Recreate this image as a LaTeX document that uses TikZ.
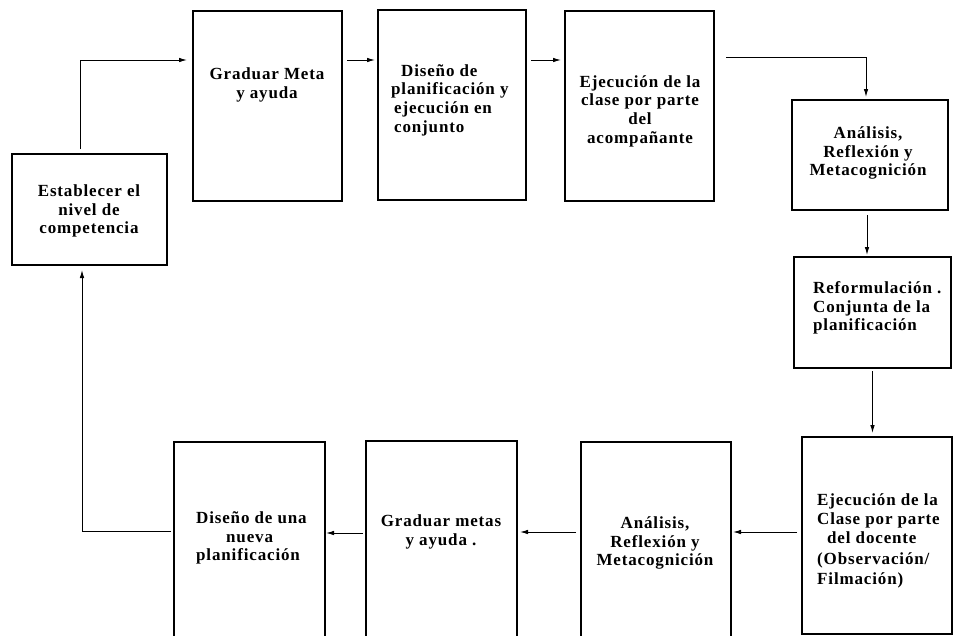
\documentclass[tikz,border=0pt]{standalone}
\usepackage{fontspec}
\setmainfont{Liberation Serif}[LetterSpace=5, BoldFont={Liberation Serif Bold}]
\usetikzlibrary{arrows.meta,calc}
\begin{document}
\begin{tikzpicture}[x=1pt,y=-1pt,
  box/.style={draw, line width=1.1pt, inner sep=0pt, outer sep=0pt, anchor=north west},
  lbl/.style={font=\bfseries\fontsize{17}{18.7}\selectfont, inner sep=0pt, align=center},
  lbll/.style={lbl, align=left},
  arr/.style={-{Latex[length=8pt,width=4.5pt]}, line width=0.9pt}]
\useasboundingbox (0,0) rectangle (953,635);
\clip (0,0) rectangle (953,635);
\fill[white] (0,0) rectangle (953,635);
% boxes
\node[box, minimum width=155pt, minimum height=111pt] (est) at (12,154) {};
\node[box, minimum width=149pt, minimum height=190pt] (grad) at (193,11) {};
\node[box, minimum width=148pt, minimum height=190pt] (dis) at (378,10) {};
\node[box, minimum width=149pt, minimum height=190pt] (eje) at (565,11) {};
\node[box, minimum width=156pt, minimum height=110pt] (ana) at (792,100) {};
\node[box, minimum width=157pt, minimum height=111pt] (ref) at (794,257) {};
\node[box, minimum width=150pt, minimum height=197pt] (doc) at (802,437) {};
\node[box, minimum width=150pt, minimum height=208pt] (ana2) at (581,442) {};
\node[box, minimum width=151pt, minimum height=209pt] (gm) at (366,441) {};
\node[box, minimum width=151pt, minimum height=208pt] (dn) at (174,442) {};
% texts
\node[lbl] (estT) at (89,211) {Establecer el\\nivel de\\competencia};
\node[lbl] (gradT) at (267,85) {Graduar Meta\\y ayuda};
\node[lbll, anchor=west] (disT) at (391,100) {\hspace*{10pt}Diseño de\\planificación y\\\hspace*{3pt}ejecución en\\\hspace*{3pt}conjunto};
\node[lbl] (ejeT) at (640,111) {Ejecución de la\\clase por parte\\del\\acompañante};
\node[lbl] (anaT) at (868,153) {Análisis,\\Reflexión y\\Metacognición};
\node[lbll, anchor=west] (refT) at (813,308) {Reformulación .\\Conjunta de la\\planificación};
\node[lbll, anchor=west] (docT) at (817,541) {Ejecución de la\\Clase por parte\\\hspace*{10pt}del docente\\[3pt](Observación/\\[1pt]Filmación)};
\node[lbl] (ana2T) at (655,543) {Análisis,\\Reflexión y\\Metacognición};
\node[lbl] (gmT) at (441,532) {Graduar metas\\y ayuda .};
\node[lbll, anchor=west] (dnT) at (196,538) {Diseño de una\\\hspace*{30pt}nueva\\planificación};
% connectors
\draw[arr, shorten <=5pt, shorten >=6pt] ([xshift=-9.5pt]est.north) |- ([yshift=-49pt]grad.north west);
\draw[arr, shorten <=5pt, shorten >=3pt] ([yshift=-49pt]grad.north east) -- ([yshift=-50pt]dis.north west);
\draw[arr, shorten <=5pt, shorten >=4pt] ([yshift=-50pt]dis.north east) -- ([yshift=-49pt]eje.north west);
\draw[arr, shorten <=12pt, shorten >=3pt] ([yshift=-46pt]eje.north east) -| ([xshift=-4pt]ana.north);
\draw[arr, shorten <=5pt, shorten >=2pt] ([xshift=-3pt]ana.south) -- ([xshift=-3pt]ana.south |- ref.north);
\draw[arr, shorten <=3pt, shorten >=4pt] (ref.south) -- (ref.south |- doc.north);
\draw[arr, shorten <=5pt, shorten >=2pt] ([yshift=3.5pt]doc.west) -- ([yshift=3.5pt]doc.west -| ana2.east);
\draw[arr, shorten <=5pt, shorten >=3pt] ([yshift=14pt]ana2.west) -- ([yshift=14pt]ana2.west -| gm.east);
\draw[arr, shorten <=3pt, shorten >=1pt] ([yshift=12.5pt]gm.west) -- ([yshift=12.5pt]gm.west -| dn.east);
\draw[arr, shorten <=3pt, shorten >=5pt] ([yshift=15pt]dn.west) -| ([xshift=-7.5pt]est.south);
\end{tikzpicture}
\end{document}
